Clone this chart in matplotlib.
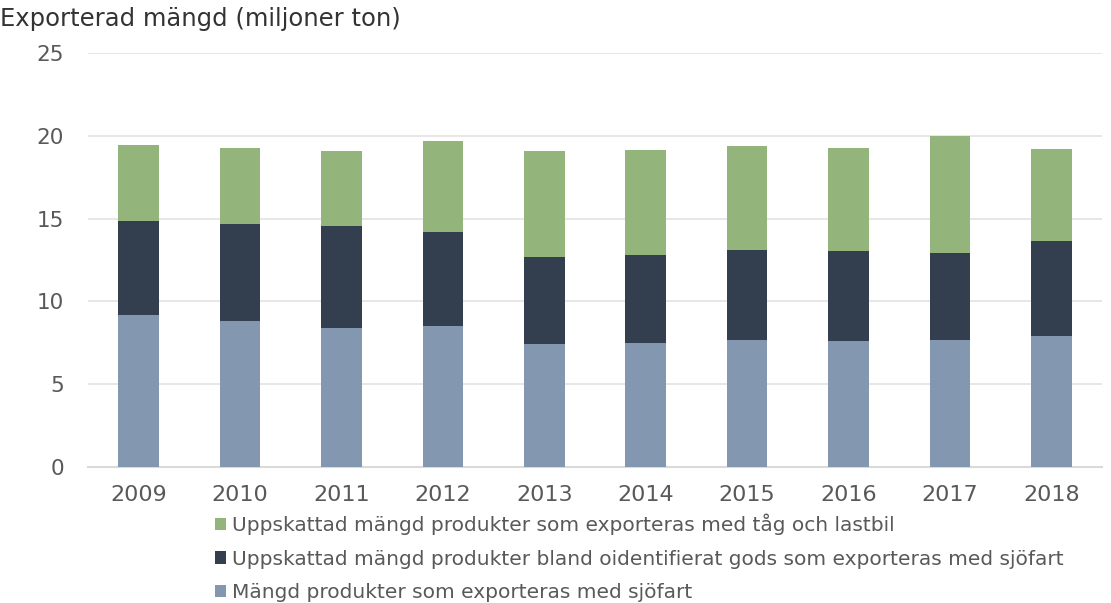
import numpy as np
import matplotlib.pyplot as plt
from matplotlib.patches import Patch

# Export volumes per year (million tonnes), stacked segments
years = ['2009', '2010', '2011', '2012', '2013', '2014', '2015', '2016', '2017', '2018']
sjofart = [9.16, 8.84, 8.42, 8.49, 7.45, 7.49, 7.67, 7.63, 7.67, 7.89]
oidentifierat = [5.72, 5.82, 6.14, 5.71, 5.24, 5.30, 5.46, 5.40, 5.28, 5.77]
tag_lastbil = [4.58, 4.58, 4.54, 5.50, 6.41, 6.37, 6.27, 6.21, 7.03, 5.54]

labels = ['Uppskattad mängd produkter som exporteras med tåg och lastbil',
          'Uppskattad mängd produkter bland oidentifierat gods som exporteras med sjöfart',
          'Mängd produkter som exporteras med sjöfart']
colors = ['#93b47a', '#333f4f', '#8497b0']

plt.rcParams['font.family'] = ['DejaVu Sans']
txt = '#595959'

fig = plt.figure(figsize=(11.11, 6.03), dpi=100)
ax = fig.add_axes([0.079, 0.2255, 0.913, 0.6865])

x = np.arange(len(years))
w = 0.40
ax.bar(x, sjofart, w, color=colors[2], zorder=3)
ax.bar(x, oidentifierat, w, bottom=sjofart, color=colors[1], zorder=3)
bottom2 = np.array(sjofart) + np.array(oidentifierat)
ax.bar(x, tag_lastbil, w, bottom=bottom2, color=colors[0], zorder=3)

ax.set_xlim(-0.5, len(years) - 0.5)
ax.set_ylim(0, 25)
ax.set_yticks([0, 5, 10, 15, 20, 25])
ax.set_xticks(x)
ax.set_xticklabels(years)
ax.yaxis.grid(True, color='#e3e3e3', linewidth=1.2, zorder=0)
ax.tick_params(axis='both', length=0, labelcolor=txt)
ax.tick_params(axis='x', pad=13, labelsize=16)
ax.tick_params(axis='y', pad=17, labelsize=15.5)
for s in ['top', 'right', 'left']:
    ax.spines[s].set_visible(False)
ax.spines['bottom'].set_color('#d9d9d9')
ax.spines['bottom'].set_linewidth(1.5)

fig.text(0.0, 0.968, 'Exporterad mängd (miljoner ton)', fontsize=17.5,
         color='#333333', ha='left', va='center')

handles = [Patch(facecolor=c, edgecolor='none') for c in colors]
leg = fig.legend(handles, labels, loc='upper left', bbox_to_anchor=(0.186, 0.162),
                 frameon=False, fontsize=14.5, handlelength=0.55, handleheight=0.55,
                 handletextpad=0.3, labelspacing=0.73, borderaxespad=0)
for t in leg.get_texts():
    t.set_color(txt)

fig.savefig('out.png', dpi=100, facecolor='white')
